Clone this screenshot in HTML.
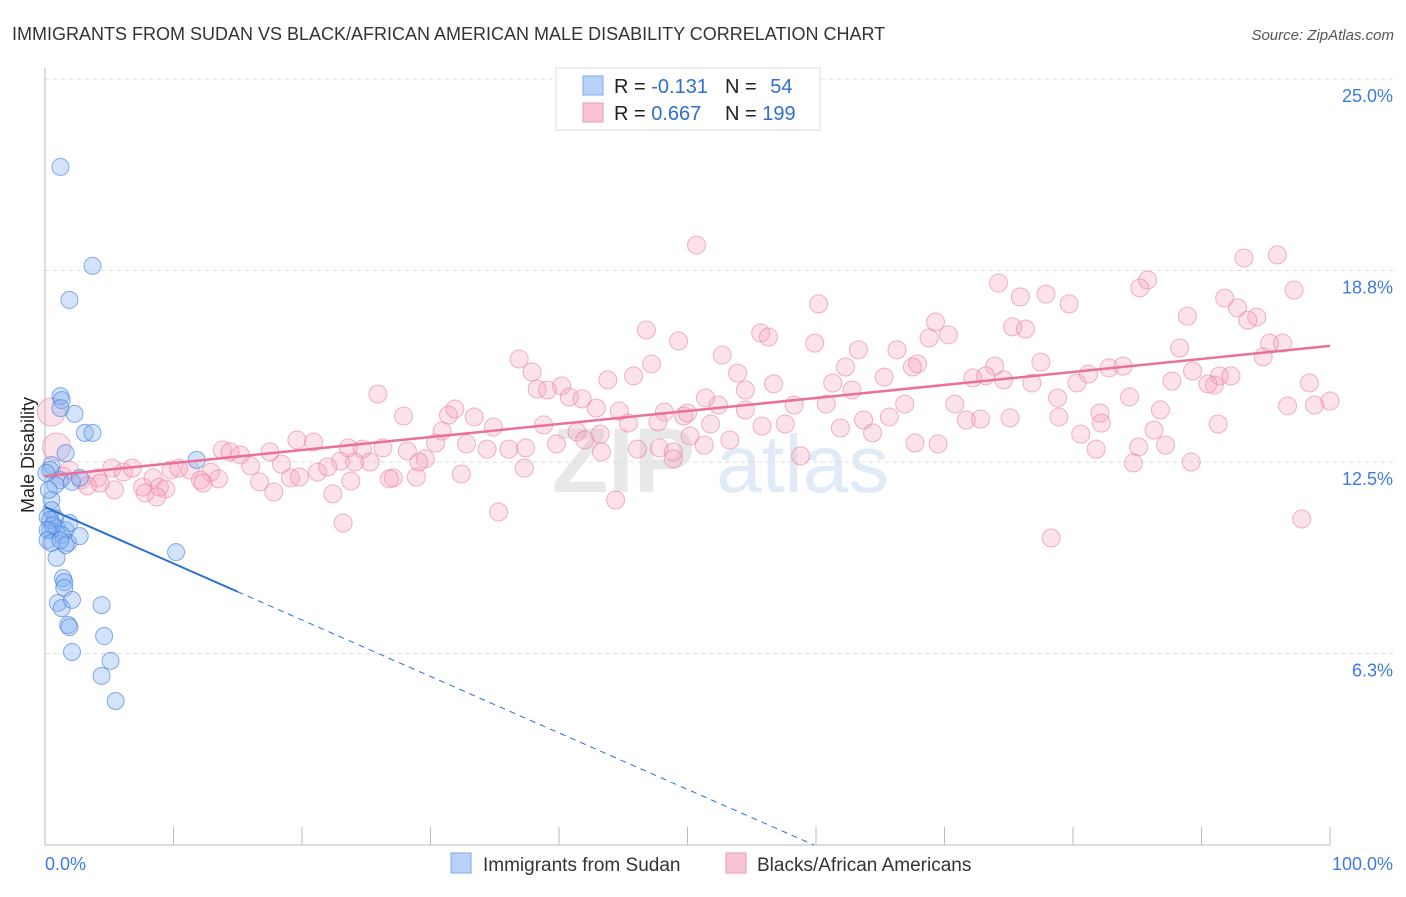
<!DOCTYPE html>
<html><head><meta charset="utf-8"><style>
body{margin:0;background:#fff;font-family:"Liberation Sans",sans-serif;}
svg text{font-family:"Liberation Sans",sans-serif;}
</style></head><body>
<svg id="chart" width="1406" height="892" xmlns="http://www.w3.org/2000/svg">
<text x="12" y="40" font-size="18" fill="#333">IMMIGRANTS FROM SUDAN VS BLACK/AFRICAN AMERICAN MALE DISABILITY CORRELATION CHART</text>
<text x="1394" y="40" font-size="15" fill="#555" font-style="italic" text-anchor="end">Source: ZipAtlas.com</text>
<g opacity="0.22">
<text x="552" y="492" font-size="92" fill="#999" font-family="Liberation Serif" font-weight="bold">ZIP</text>
<text x="716" y="492" font-size="82" fill="#7aa6e0">atlas</text>
</g>
<g id="grid"></g><g id="axes"></g><g id="pts"></g><g id="trends"></g>
<text transform="translate(34,455) rotate(-90)" font-size="18" fill="#222" text-anchor="middle">Male Disability</text>
<g>
<rect x="556" y="68" width="264" height="62" fill="#fff" stroke="#ddd"/>
<rect x="583" y="76" width="20" height="19" fill="#b7d2f6" stroke="#7ea9e8"/>
<rect x="583" y="103" width="20" height="19" fill="#f9c5d4" stroke="#eb9ab3"/>
<text x="614" y="93" font-size="20" fill="#222">R = <tspan fill="#2d6fd1">-0.131</tspan></text>
<text x="725" y="93" font-size="20" fill="#222">N = <tspan fill="#2d6fd1" dx="8">54</tspan></text>
<text x="614" y="120" font-size="20" fill="#222">R = <tspan fill="#2d6fd1">0.667</tspan></text>
<text x="725" y="120" font-size="20" fill="#222">N = <tspan fill="#2d6fd1">199</tspan></text>
</g>
<g>
<rect x="451" y="853" width="20" height="20" fill="#b7d2f6" stroke="#7ea9e8"/>
<text x="483" y="871" font-size="19" fill="#333">Immigrants from Sudan</text>
<rect x="726" y="853" width="20" height="20" fill="#f9c5d4" stroke="#eb9ab3"/>
<text x="757" y="871" font-size="19" fill="#333">Blacks/African Americans</text>
</g>
</svg>
<script>
const yTicks=[6.25,12.5,18.75,25];
const yTickLabels=["6.3%","12.5%","18.8%","25.0%"];
const xTickCount=10;
const blueX=[1.2,3.7,1.9,1.2,1.3,1.2,2.3,3.1,3.7,11.8,1.6,0.5,0.4,1.2,2.1,2.7,0.8,0.5,0.5,0.2,0.8,0.4,0.9,1.6,1.9,1.3,1.8,2.7,1.6,0.9,1.4,1.5,1.5,1.0,1.3,2.1,4.4,1.8,1.9,4.6,2.1,5.1,4.4,5.5,10.2,0.4,0.6,0.2,0.2,0.5,1.2,0.3,0.1];
const blueY=[22.13,18.9,17.79,14.65,14.52,14.26,14.07,13.45,13.45,12.57,12.79,12.4,12.24,11.91,11.85,11.98,11.75,11.26,10.93,10.7,10.67,10.28,10.35,10.28,10.51,10.12,9.86,10.08,9.79,9.37,8.71,8.58,8.39,7.9,7.73,8.0,7.83,7.18,7.11,6.82,6.3,6.01,5.52,4.7,9.56,10.61,10.44,10.28,9.95,9.86,9.95,11.59,12.14];
const pinkX=[50.7,74.2,75.9,77.9,79.7,85.8,85.2,93.3,95.9,91.8,92.8,94.3,93.6,97.2,88.9,60.2,46.8,49.3,55.7,56.3,59.9,63.3,69.3,70.3,68.8,75.3,76.3,88.3,95.3,96.3,94.8,36.9,37.9,47.2,52.7,53.9,62.3,66.3,67.9,73.9,77.5,82.8,83.9,89.3,87.7,91.4,91.0,92.3,98.4,25.9,38.3,40.2,40.8,43.8,45.8,54.5,56.7,61.3,62.8,65.3,67.5,72.2,73.2,74.6,76.8,80.3,81.2,90.5,78.8,84.4,96.7,98.8,100,27.9,31.4,31.9,33.4,39.1,41.8,42.9,44.7,48.2,49.7,51.4,52.4,54.5,58.3,60.8,63.7,65.7,66.9,70.8,71.7,72.8,78.9,82.1,86.8,91.3,30.9,34.9,38.8,41.4,43.2,45.4,47.7,50.0,51.8,55.8,57.6,61.9,64.4,67.7,69.5,75.1,80.6,82.2,86.3,85.1,87.2,81.8,19.6,20.9,26.3,30.4,32.8,34.4,36.1,39.8,42.0,46.1,47.8,48.9,50.2,51.3,53.3,58.8,13.8,14.4,15.2,17.5,23.6,24.7,28.2,29.6,29.1,48.9,23.0,24.1,25.3,37.3,16.0,18.4,19.1,19.8,21.2,22.0,32.4,37.4,43.3,84.7,89.2,5.2,6.1,6.8,9.8,10.4,11.3,12.9,12.1,13.5,8.4,4.1,2.8,1.9,1.4,3.3,4.3,5.4,7.6,8.9,9.4,12.3,16.7,17.8,27.1,26.8,28.9,23.8,22.4,7.8,8.7,35.3,44.4,23.2,78.3,97.8,0.5,0.9];
const pinkY=[19.58,18.34,17.89,17.98,17.66,18.44,18.18,19.16,19.26,17.85,17.53,17.23,17.13,18.11,17.26,17.66,16.81,16.45,16.71,16.58,16.38,16.16,17.07,16.65,16.55,16.91,16.84,16.22,16.38,16.38,15.93,15.86,15.44,15.7,15.99,15.4,15.6,16.16,15.7,15.63,15.76,15.57,15.63,15.47,15.14,15.31,15.01,15.31,15.08,14.72,14.88,14.98,14.62,15.18,15.31,14.85,15.05,15.08,14.85,15.27,15.6,15.24,15.31,15.18,15.08,15.08,15.37,15.05,14.59,14.62,14.33,14.36,14.49,14.0,14.03,14.23,13.97,14.85,14.56,14.26,14.16,14.13,14.0,14.59,14.36,14.2,14.36,14.39,13.87,13.97,14.39,14.39,13.87,13.9,13.97,14.1,14.2,13.74,13.51,13.64,13.71,13.48,13.41,13.77,13.81,14.1,13.74,13.67,13.74,13.61,13.45,13.12,13.09,13.94,13.41,13.77,13.54,12.99,13.05,12.92,13.22,13.15,12.96,13.12,13.09,12.92,12.92,13.09,13.22,12.92,12.96,12.83,13.35,13.05,13.22,12.7,12.89,12.83,12.73,12.83,12.96,12.92,12.86,12.6,12.5,12.6,12.53,12.5,12.5,12.3,12.37,12.43,11.98,12.01,12.17,12.34,12.11,12.96,12.83,12.47,12.5,12.3,12.17,12.3,12.24,12.3,12.24,12.17,11.91,11.95,11.98,11.98,11.91,12.24,12.04,11.72,11.81,11.59,11.68,11.68,11.62,11.81,11.85,11.52,11.98,11.95,12.01,11.88,11.46,11.49,11.36,10.87,11.26,10.51,10.02,10.64,14.13,12.99];
const blueTrend=[11.03,-7.4];
const blueSolidEnd=15;
const pinkTrend=[12.04,16.29];

const X0=45,X1=1330,YB=845,YT=79;
const sx=v=>X0+(X1-X0)*v/100;
const sy=v=>YB-(YB-YT)*v/25;
const NS="http://www.w3.org/2000/svg";
function mk(tag,attrs,parent){const e=document.createElementNS(NS,tag);for(const k in attrs)e.setAttribute(k,attrs[k]);parent.appendChild(e);return e;}
const grid=document.getElementById('grid'),axes=document.getElementById('axes');
yTicks.forEach((t,i)=>{
 const g=mk('line',{x1:X0,x2:1394,y1:sy(t),y2:sy(t),stroke:'#ddd','stroke-dasharray':'4,4'},grid);
 
 
 const l=mk('text',{x:1393,y:sy(t)+23,'font-size':18,fill:'#3d7be0','text-anchor':'end'},axes);
 l.textContent=yTickLabels[i];
 
 
});
const ax=mk('line',{x1:X0,x2:X1,y1:YB,y2:YB,stroke:'#bbb'},axes);


const ay=mk('line',{x1:X0,x2:X0,y1:68,y2:YB,stroke:'#bbb'},axes);


for(let i=0;i<=xTickCount;i++){
 const t=mk('line',{x1:sx(i*100/xTickCount),x2:sx(i*100/xTickCount),y1:YB,y2:YB-18,stroke:'#bbb'},axes);
 
 
}
const xl=mk('text',{x:45,y:870,'font-size':18,fill:'#3d7be0'},axes);xl.textContent='0.0%';


const xr=mk('text',{x:1393,y:870,'font-size':18,fill:'#3d7be0','text-anchor':'end'},axes);xr.textContent='100.0%';


const pts=document.getElementById('pts');
pinkX.forEach((x,i)=>{
 const big=(i>=pinkX.length-2);
 const c=mk('circle',{cx:sx(x),cy:sy(pinkY[i]),r:big?14:9,fill:'rgba(244,160,186,0.3)',stroke:'rgba(232,130,162,0.6)','stroke-width':1},pts);
 
 
});
blueX.forEach((x,i)=>{
 const c=mk('circle',{cx:sx(x),cy:sy(blueY[i]),r:8.5,fill:'rgba(130,175,240,0.35)',stroke:'rgba(70,130,220,0.65)','stroke-width':1},pts);
 
 
});
const tr=document.getElementById('trends');
const by=x=>blueTrend[0]+(blueTrend[1]-blueTrend[0])*x/100;
const zeroX=blueTrend[0]/(blueTrend[0]-blueTrend[1])*100;
const b1=mk('line',{x1:sx(0),y1:sy(by(0)),x2:sx(blueSolidEnd),y2:sy(by(blueSolidEnd)),stroke:'#2a6fd6','stroke-width':2},tr);


const b2=mk('line',{x1:sx(blueSolidEnd),y1:sy(by(blueSolidEnd)),x2:sx(zeroX),y2:sy(0),stroke:'#2a6fd6','stroke-width':1,'stroke-dasharray':'6,5'},tr);


const p1=mk('line',{x1:sx(0),y1:sy(pinkTrend[0]),x2:sx(100),y2:sy(pinkTrend[1]),stroke:'#e8709a','stroke-width':2.5},tr);


</script>
</body></html>
